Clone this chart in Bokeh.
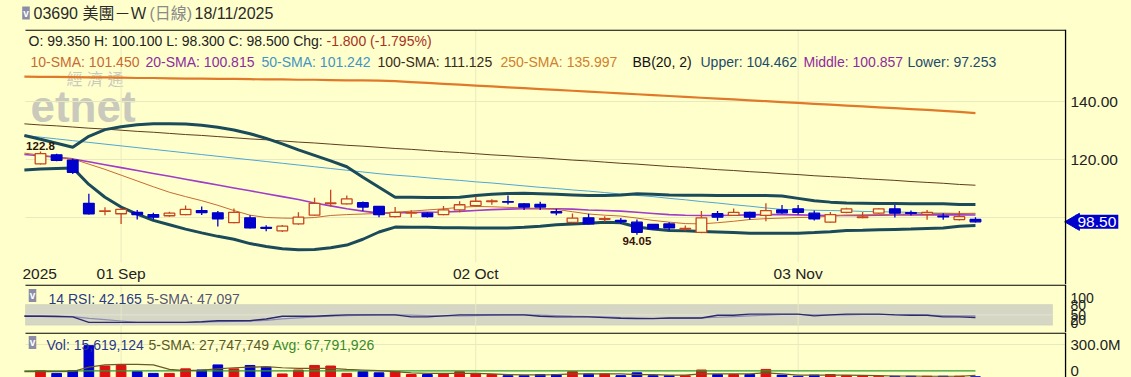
import math
from bokeh.plotting import figure
from bokeh.layouts import column
from bokeh.models import ColumnDataSource, Label, BoxAnnotation, Range1d
from bokeh.embed import file_html
from bokeh.resources import INLINE

# ---------------- data ----------------
dates = ["08-25", "08-26", "08-27", "08-28", "08-29", "09-01", "09-02", "09-03", "09-04", "09-05",
         "09-08", "09-09", "09-10", "09-11", "09-12", "09-15", "09-16", "09-17", "09-18", "09-19",
         "09-22", "09-23", "09-24", "09-25", "09-26", "09-29", "09-30", "10-02", "10-03", "10-06",
         "10-08", "10-09", "10-10", "10-13", "10-14", "10-15", "10-16", "10-17", "10-20", "10-21",
         "10-22", "10-23", "10-24", "10-27", "10-28", "10-30", "10-31", "11-03", "11-04", "11-05",
         "11-06", "11-07", "11-10", "11-11", "11-12", "11-13", "11-14", "11-17", "11-18"]

opens = [118.5, 121.6, 119.8, 104.9, 102.1, 101.3, 101.8, 101.0, 100.6, 101.0,
         102.4, 101.6, 98.2, 99.9, 96.6, 95.4, 97.8, 100.8, 104.8, 104.7,
         105.1, 103.8, 100.3, 101.5, 101.5, 101.0, 102.6, 104.1, 105.5, 105.5,
         104.7, 104.5, 102.0, 98.3, 99.9, 99.4, 99.0, 98.4, 97.6, 97.8,
         96.0, 94.9, 101.3, 100.7, 101.8, 100.7, 102.6, 103.0, 101.5, 98.4,
         101.8, 100.0, 101.5, 103.0, 101.7, 101.1, 100.5, 99.3, 99.35]
highs = [122.8, 122.0, 120.3, 108.2, 103.5, 103.2, 102.6, 101.6, 102.0, 104.1,
         103.8, 102.2, 103.1, 100.8, 97.3, 97.4, 101.8, 106.8, 109.6, 107.6,
         105.5, 104.0, 103.6, 102.5, 101.8, 104.0, 105.6, 107.2, 106.3, 107.6,
         105.0, 105.4, 102.9, 101.4, 101.3, 100.4, 99.8, 99.3, 97.8, 98.4,
         97.2, 102.2, 102.2, 103.1, 102.0, 104.9, 104.3, 104.3, 102.4, 101.9,
         103.4, 101.9, 103.3, 104.3, 102.4, 102.6, 101.5, 102.2, 100.1]
lows = [118.3, 119.4, 115.0, 101.0, 100.8, 97.8, 99.3, 99.3, 100.3, 100.8,
        100.9, 96.9, 98.0, 96.2, 95.3, 95.0, 97.5, 100.5, 103.8, 104.5,
        102.2, 100.1, 100.0, 100.0, 100.0, 100.8, 101.8, 103.8, 104.4, 104.5,
        102.6, 102.6, 100.8, 98.0, 97.6, 98.5, 97.8, 94.05, 95.8, 95.6,
        95.5, 94.6, 98.9, 100.5, 99.2, 98.7, 101.3, 101.0, 99.0, 98.2,
        101.5, 99.7, 101.2, 100.0, 100.7, 99.2, 99.2, 99.0, 98.3]
closes = [122.0, 119.7, 115.6, 101.3, 102.3, 102.8, 101.0, 100.1, 101.5, 102.8,
          101.7, 99.5, 101.8, 96.4, 96.3, 97.0, 100.1, 104.9, 105.0, 106.4,
          103.6, 101.0, 101.8, 101.7, 100.3, 102.6, 104.4, 105.6, 105.7, 105.3,
          103.6, 103.6, 101.6, 99.8, 97.8, 99.6, 98.6, 94.9, 96.1, 96.4,
          96.2, 99.9, 100.1, 101.8, 100.1, 102.4, 101.6, 101.8, 99.5, 101.0,
          103.0, 100.2, 103.0, 101.5, 101.4, 101.8, 100.2, 100.3, 98.5]
# volume, millions of shares
volume_m = [70, 45, 70, 290, 110, 115, 60, 45, 45, 85,
            75, 120, 85, 115, 100, 40, 75, 115, 110, 45,
            60, 50, 60, 35, 35, 40, 60, 45, 35, 25,
            25, 35, 35, 60, 40, 40, 25, 50, 25, 25,
            25, 75, 35, 35, 35, 80, 30, 20, 30, 35,
            25, 25, 20, 20, 20, 20, 20, 20, 15.6]

# indicator lines, one value per bar starting one bar before the first candle
sma10 = [122.2, 121.5, 120.8, 120.2, 118.4, 116.6, 114.6, 112.6, 110.6, 108.7, 107.2,
         105.8, 104.2, 102.4, 100.8, 100.0, 99.8, 99.7, 100.0, 100.7, 101.0,
         101.2, 101.4, 101.8, 102.2, 102.6, 103.0, 103.5, 103.8, 103.7, 103.5,
         103.3, 103.1, 102.8, 102.0, 101.2, 100.8, 100.5, 99.8, 99.0, 98.4,
         97.9, 97.8, 98.2, 98.7, 99.3, 99.6, 99.8, 100.0, 100.1, 100.5,
         100.8, 100.9, 101.0, 101.1, 101.2, 101.3, 101.4, 101.4, 101.45]
sma20 = [121.7, 121.3, 120.8, 120.2, 119.2, 118.2, 117.2, 116.2, 115.2, 114.2, 113.2,
         112.2, 111.2, 110.2, 109.2, 108.2, 107.2, 106.2, 105.0, 104.0, 103.0,
         102.2, 101.5, 101.6, 101.7, 101.8, 101.9, 102.1, 102.4, 102.7, 102.9,
         103.0, 103.0, 103.0, 102.9, 102.6, 102.4, 102.2, 101.8, 101.4, 101.0,
         100.8, 100.7, 100.7, 100.8, 100.9, 101.0, 101.0, 100.9, 100.8, 100.7,
         100.7, 100.7, 100.8, 100.9, 100.9, 100.9, 100.9, 100.9, 100.86]
sma50 = [128.3, 127.7, 127.1, 126.5, 125.9, 125.3, 124.7, 124.1, 123.5, 122.9, 122.3,
         121.7, 121.1, 120.5, 119.9, 119.3, 118.7, 118.1, 117.5, 116.9, 116.3,
         115.7, 115.1, 114.6, 114.2, 113.7, 113.2, 112.8, 112.3, 111.9, 111.4,
         110.9, 110.4, 110.0, 109.5, 109.1, 108.6, 108.1, 107.6, 107.2, 106.6,
         106.1, 105.5, 105.0, 104.4, 103.9, 103.3, 102.8, 102.7, 102.5, 102.4,
         102.3, 102.1, 102.0, 101.9, 101.8, 101.6, 101.5, 101.4, 101.24]
sma100 = [132.3, 131.9, 131.6, 131.2, 130.8, 130.5, 130.1, 129.7, 129.4, 129.0, 128.6,
          128.3, 127.9, 127.5, 127.1, 126.8, 126.4, 126.0, 125.7, 125.3, 124.9,
          124.6, 124.2, 123.8, 123.5, 123.1, 122.7, 122.4, 122.0, 121.6, 121.3,
          120.9, 120.6, 120.2, 119.8, 119.5, 119.1, 118.7, 118.4, 118.0, 117.6,
          117.3, 116.9, 116.5, 116.2, 115.8, 115.5, 115.1, 114.8, 114.4, 114.1,
          113.8, 113.4, 113.1, 112.8, 112.4, 112.1, 111.8, 111.4, 111.13]
sma250 = [148.6, 148.5, 148.5, 148.4, 148.3, 148.3, 148.2, 148.1, 148.1, 148.0, 147.9,
          147.9, 147.8, 147.8, 147.7, 147.6, 147.6, 147.5, 147.5, 147.4, 147.3,
          147.3, 147.2, 147.0, 146.7, 146.4, 146.1, 145.8, 145.5, 145.2, 144.9,
          144.6, 144.3, 144.0, 143.7, 143.4, 143.1, 142.8, 142.5, 142.2, 141.9,
          141.6, 141.3, 141.0, 140.7, 140.4, 140.1, 139.8, 139.5, 139.2, 138.9,
          138.6, 138.3, 138.0, 137.7, 137.4, 137.1, 136.8, 136.4, 136.0]
bb_upper = [128.3, 127.0, 125.6, 124.2, 128.0, 130.3, 131.3, 132.0, 132.3, 132.3, 132.2,
            131.8, 131.1, 130.2, 128.9, 127.3, 125.4, 123.3, 121.4, 119.5, 117.5,
            113.9, 110.4, 107.0, 107.0, 106.9, 106.9, 107.0, 107.6, 108.0, 108.3,
            108.4, 108.2, 108.0, 107.8, 107.6, 107.6, 107.8, 108.2, 108.0, 107.8,
            107.7, 107.7, 107.6, 107.6, 107.6, 107.6, 107.4, 106.6, 105.8, 105.3,
            105.0, 104.9, 104.8, 104.8, 104.7, 104.7, 104.7, 104.5, 104.46]
bb_lower = [116.4, 116.7, 116.9, 117.1, 111.4, 107.0, 103.6, 101.2, 99.0, 97.5, 96.0,
            94.7, 93.5, 92.5, 91.0, 90.0, 89.2, 88.9, 89.0, 89.6, 90.5,
            92.5, 95.0, 96.7, 96.6, 96.6, 96.5, 96.5, 96.4, 96.4, 96.4,
            96.6, 97.0, 97.5, 97.8, 98.0, 98.4, 98.2, 96.7, 96.0, 95.5,
            95.4, 95.2, 95.0, 94.8, 94.6, 94.6, 94.6, 94.6, 94.8, 95.1,
            95.5, 95.6, 95.8, 95.9, 96.0, 96.2, 96.4, 97.0, 97.25]
rsi14 = [46, 46, 45, 44, 28, 28, 28, 28, 28, 28, 28,
         30, 33, 33, 33, 38, 46, 46, 46, 48, 50,
         50, 50, 50, 44, 44, 47, 50, 50, 50, 50,
         50, 46, 44, 44, 44, 42, 40, 39, 39, 41,
         41, 41, 49, 49, 52, 52, 52, 52, 47, 50,
         52, 52, 52, 50, 49, 49, 44, 44, 42.17]
rsi_sma5 = [48, 47, 46, 45, 40, 36, 32, 28, 28, 28, 28,
            29, 30, 31, 32, 34, 38, 41, 44, 46, 48,
            49, 50, 50, 49, 48, 47, 47, 48, 49, 50,
            50, 49, 48, 46, 45, 44, 42, 41, 40, 40,
            40, 41, 43, 45, 47, 49, 51, 51, 50, 50,
            50, 51, 51, 51, 50, 49, 48, 47, 47.1]
vol_sma5 = [60, 62, 60, 62, 100, 120, 125, 125, 120, 80, 70,
            75, 85, 95, 100, 105, 95, 90, 90, 90, 80,
            75, 70, 60, 50, 45, 45, 45, 45, 40, 35,
            32, 32, 35, 40, 40, 40, 40, 35, 35, 30,
            30, 40, 40, 40, 40, 50, 40, 30, 30, 30,
            30, 28, 25, 22, 22, 20, 20, 20, 27.7]
vol_avg = 67.79

tick_idx = [5, 27, 47]
tick_text = ["01 Sep", "02 Oct", "03 Nov"]
price_ticks = [120, 140]
price_grid = [100, 120, 140]
rsi_ticks = [0, 20, 50, 80, 100]
vol_ticks = [0, 300]

# ---------------- styling / pixel geometry ----------------
BG = "#FFFFCC"
FONT = "'Liberation Sans', Arial, 'Noto Sans CJK TC', sans-serif"
UP = "#C8461E"
DOWN = "#0000CC"
GRID = "#E9E9BF"
TXT = "#222222"
ICON = "#8C8CA6"
W = 1131
PXB = 16.12                      # pixels per bar
XS = -40.0 / PXB                 # data x at pixel 0 (first candle drawn at pixel 40)
XE = XS + W / PXB
PL, PR = 25, 1065                # left / right edge of the chart area

n = len(closes)
idx = list(range(n))
line_idx = list(range(-1, n))


def px_x(px):
    return XS + px / PXB


def px_y(py):                    # main panel: pixel row -> price
    return 120 - (py - 159) / 2.9


xr = Range1d(XS, XE)


def panel(height, y0, y1):
    f = figure(width=W, height=height, x_range=xr, y_range=Range1d(y0, y1),
               output_backend="svg", toolbar_location=None, title=None,
               x_axis_location=None, y_axis_location=None,
               min_border=0, background_fill_color=BG, border_fill_color=BG,
               outline_line_color=None)
    f.grid.grid_line_color = None
    return f


def vgrid(f, ybot, ytop):
    f.segment(x0=tick_idx, y0=[ybot] * len(tick_idx), x1=tick_idx, y1=[ytop] * len(tick_idx),
              line_color=GRID, line_width=1)


def hgrid(f, levels):
    f.segment(x0=[px_x(PL)] * len(levels), y0=levels, x1=[px_x(PR)] * len(levels), y1=levels,
              line_color=GRID, line_width=1)


def borders(f, fy, top_py, bot_py):
    # top border of the panel and right border (axis line)
    f.add_layout(BoxAnnotation(left=px_x(PL), right=px_x(PR), top=fy(top_py), bottom=fy(top_py + 1.3),
                               fill_color="black", fill_alpha=1, line_color=None))
    f.add_layout(BoxAnnotation(left=px_x(PR - 0.6), right=px_x(PR + 0.7), top=fy(top_py), bottom=fy(bot_py),
                               fill_color="black", fill_alpha=1, line_color=None))


def icon(f, x, y):
    f.add_layout(Label(x=x, y=y, text="v", text_font=FONT, text_font_size="10px",
                       text_font_style="bold", text_color="white", text_align="center",
                       text_baseline="middle", background_fill_color=ICON, padding=1))


# ---------------- header ----------------
h = figure(width=W, height=29, x_range=Range1d(0, W), y_range=Range1d(29, 0),
           output_backend="svg", toolbar_location=None, title=None,
           x_axis_location=None, y_axis_location=None, min_border=0,
           background_fill_color=BG, border_fill_color=BG, outline_line_color=None)
h.grid.grid_line_color = None
icon(h, 25.5, 12.5)
for hx, ht, hc in [(33, "03690 美團－Ｗ", "#2A2A2A"), (149, "(日線)", "#8A8A8A"), (194, "18/11/2025", "#2A2A2A")]:
    h.add_layout(Label(x=hx, y=12.5, text=ht, text_font=FONT, text_font_size="16px",
                       text_color=hc, text_baseline="middle"))

# ---------------- main price panel ----------------
p = panel(255, px_y(284), px_y(29))
hgrid(p, price_grid)
vgrid(p, px_y(262), px_y(29))
borders(p, px_y, 29, 284)

# watermark
p.add_layout(Label(x=px_x(30), y=px_y(106), text="etnet", text_font=FONT, text_font_style="bold",
                   text_font_size="44px", text_color="#C9C9BC", text_baseline="middle", level="underlay"))
p.add_layout(Label(x=px_x(66), y=px_y(79), text="經 濟 通", text_font=FONT,
                   text_font_size="16px", text_color="#C9C9BC", text_baseline="middle", level="underlay"))

# indicator lines
p.line(line_idx, sma250, line_color="#E07A2A", line_width=2.2)
p.line(line_idx, sma100, line_color="#5E3D1E", line_width=1)
p.line(line_idx, sma50, line_color="#4DA6D6", line_width=1)
p.line(line_idx, bb_upper, line_color="#1B4B5B", line_width=3)
p.line(line_idx, bb_lower, line_color="#1B4B5B", line_width=3)
p.line(line_idx, sma20, line_color="#A03CC8", line_width=1.6)
p.line(line_idx, sma10, line_color="#C86A32", line_width=1)

# candles
up = [c >= o for o, c in zip(opens, closes)]
src = ColumnDataSource(dict(
    x=idx, high=highs, low=lows,
    top=[max(o, c) for o, c in zip(opens, closes)],
    bottom=[min(o, c) for o, c in zip(opens, closes)],
    color=[UP if u else DOWN for u in up],
    fill=[BG if u else DOWN for u in up]))
p.segment(x0="x", y0="high", x1="x", y1="low", color="color", line_width=1.3, source=src)
p.vbar(x="x", width=0.66, top="top", bottom="bottom", fill_color="fill", line_color="color",
       line_width=1.3, source=src)

# high / low annotations
hi_i = highs.index(max(highs))
lo_i = lows.index(min(lows))
p.add_layout(Label(x=hi_i, y=highs[hi_i], text=f"{highs[hi_i]:.1f}", text_font=FONT,
                   text_font_style="bold", text_font_size="11.5px", text_color="#2A1608",
                   text_align="center", text_baseline="bottom", y_offset=1))
p.add_layout(Label(x=lo_i, y=lows[lo_i], text=f"{lows[lo_i]:.2f}", text_font=FONT,
                   text_font_style="bold", text_font_size="11.5px", text_color="#3A1208",
                   text_align="center", text_baseline="top", y_offset=-2))

# date tick labels (drawn inside the panel, as in the reference)
p.add_layout(Label(x=px_x(22), y=px_y(273), text="2025", text_font=FONT, text_font_size="15.5px",
                   text_color=TXT, text_baseline="middle"))
for t, s in zip(tick_idx, tick_text):
    p.add_layout(Label(x=t, y=px_y(273), text=s, text_font=FONT, text_font_size="15.5px",
                       text_color=TXT, text_align="center", text_baseline="middle"))

# price tick labels on the right
for t in price_ticks:
    p.add_layout(Label(x=px_x(1070), y=t, text=f"{t:.2f}", text_font=FONT, text_font_size="15.5px",
                       text_color=TXT, text_baseline="middle"))

# last price marker
p.scatter(x=[px_x(1074)], y=[closes[-1]], marker="triangle", size=17, angle=math.pi / 2,
          fill_color="#0000CC", line_color="#0000CC")
p.add_layout(Label(x=px_x(1075), y=closes[-1], text=f"{closes[-1]:.2f}", text_font=FONT,
                   text_font_size="15.5px", text_color="white", text_baseline="middle",
                   background_fill_color="#0000CC", padding=2))

# info lines
for lx, ly, lt, lc in [
        (28, 40, "O: 99.350 H: 100.100 L: 98.300 C: 98.500 Chg:", "#222222"),
        (326, 40, "-1.800 (-1.795%)", "#A8321E"),
        (30, 61, "10-SMA: 101.450", "#C86A32"),
        (145, 61, "20-SMA: 100.815", "#8E2C9E"),
        (261, 61, "50-SMA: 101.242", "#3F95C4"),
        (377, 61, "100-SMA: 111.125", "#3A2A1A"),
        (500, 61, "250-SMA: 135.997", "#D0802E"),
        (632, 61, "BB(20, 2)", "#111111"),
        (700, 61, "Upper: 104.462", "#1B4B6B"),
        (803, 61, "Middle: 100.857", "#8E2C9E"),
        (907, 61, "Lower: 97.253", "#1B4B6B")]:
    p.add_layout(Label(x=px_x(lx), y=px_y(ly), text=lt, text_font=FONT, text_font_size="14px",
                       text_color=lc, text_baseline="middle"))

# ---------------- RSI panel ----------------
R_PX0, R_K = 331.5, 0.343        # pixel row of RSI 0, pixels per RSI point


def rsi_y(py):
    return (R_PX0 - py) / R_K


r = panel(48, rsi_y(332), rsi_y(284))
vgrid(r, rsi_y(332), rsi_y(284))
r.add_layout(BoxAnnotation(bottom=20, top=80, left=px_x(PL), right=px_x(1052), fill_color="#D6D6C4",
                           fill_alpha=1, line_color="#B8B8A8", line_width=1, level="underlay"))
r.segment(x0=[px_x(PL)], y0=[50], x1=[px_x(1052)], y1=[50], line_color="#E4E4D4", line_width=1)
borders(r, rsi_y, 284, 332)
r.line(line_idx, rsi_sma5, line_color="#8C8CB4", line_width=1.2)
r.line(line_idx, rsi14, line_color="#2A2A6E", line_width=1.4)
icon(r, px_x(32), rsi_y(295))
for lx, lt, lc in [(48, "14 RSI: 42.165", "#2A3A8A"), (146, "5-SMA: 47.097", "#555577")]:
    r.add_layout(Label(x=px_x(lx), y=rsi_y(298), text=lt, text_font=FONT, text_font_size="14px",
                       text_color=lc, text_baseline="middle"))
for t in rsi_ticks:
    r.add_layout(Label(x=px_x(1070), y=t, text=str(t), text_font=FONT, text_font_size="14px",
                       text_color=TXT, text_baseline="bottom" if t == 0 else "middle",
                       y_offset={0: 4, 20: 5}.get(t, 0)))

# ---------------- volume panel ----------------
V_PX0, V_K = 378.0, 34.0 / 300.0   # pixel row of volume 0, pixels per million


def vol_y(py):
    return (V_PX0 - py) / V_K


v = panel(45, vol_y(377), vol_y(332))
vgrid(v, vol_y(377), vol_y(332))
hgrid(v, [300])
borders(v, vol_y, 332, 377)
v.vbar(x=idx, width=0.6, top=volume_m, bottom=0,
       color=["#DD1111" if u else "#0000CC" for u in up])
v.line(line_idx, [vol_avg] * len(line_idx), line_color="#2E9A2E", line_width=1.2)
v.line(line_idx, vol_sma5, line_color="#6B5A22", line_width=1.2)
icon(v, px_x(32), vol_y(342))
for lx, lt, lc in [(46, "Vol: 15,619,124", "#2A3A8A"), (148, "5-SMA: 27,747,749", "#5A5A22"),
                   (272, "Avg: 67,791,926", "#3A8A2A")]:
    v.add_layout(Label(x=px_x(lx), y=vol_y(344), text=lt, text_font=FONT, text_font_size="14px",
                       text_color=lc, text_baseline="middle"))
for t in vol_ticks:
    v.add_layout(Label(x=px_x(1070), y=t if t else vol_y(375), text=(f"{t:.1f}M" if t else "0"),
                       text_font=FONT, text_font_size="15px", text_color=TXT,
                       text_baseline="middle" if t else "bottom"))

layout = column(h, p, r, v, spacing=0, background=BG)
open("out.html", "w").write(file_html(layout, INLINE))
